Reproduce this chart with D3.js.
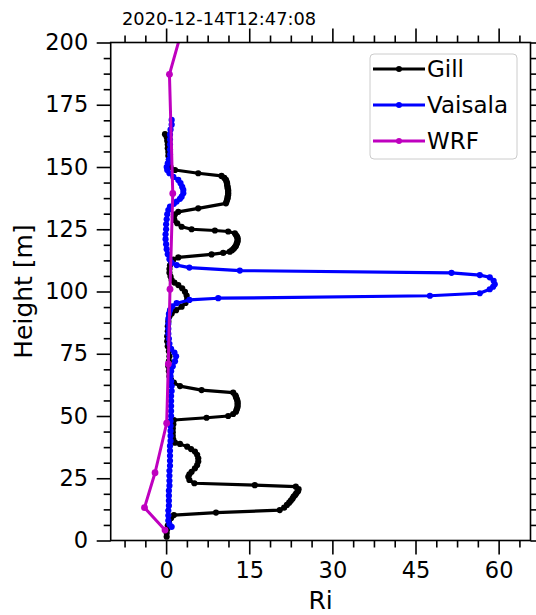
<!DOCTYPE html>
<html><head><meta charset="utf-8">
<script src="https://cdn.jsdelivr.net/npm/d3@7"></script>
<style>html,body{margin:0;padding:0;background:#fff;} svg{display:block;font-family:"DejaVu Sans",sans-serif;}</style>
</head><body><svg id="chart" width="536" height="615"></svg>
<script>
const title = "2020-12-14T12:47:08";
const seriesNames = ["Gill", "Vaisala", "WRF"];
const seriesColors = ["#000000", "#0000ff", "#bf00bf"];
const xLabel = "Ri";
const yLabel = "Height [m]";

const gillHeight = [
  1.5, 3.0, 4.5, 6.0, 7.5, 9.0, 10.2, 11.2, 12.2, 13.2,
  14.3, 15.2, 16.0, 16.8, 17.6, 18.3, 19.0, 19.8, 20.6, 21.6,
  22.2, 23.0, 24.3, 25.6, 26.6, 27.6, 29.0, 30.3, 31.7, 33.0,
  34.4, 35.7, 36.7, 37.7, 38.8, 39.3, 40.5, 42.0, 43.5, 45.0,
  46.7, 48.4, 49.3, 50.0, 50.8, 51.7, 52.4, 53.0, 53.7, 54.4,
  55.1, 55.8, 56.5, 57.1, 57.7, 58.3, 59.4, 60.4, 62.0, 63.4,
  64.5, 66.0, 68.0, 70.0, 72.0, 74.0, 76.0, 78.0, 80.0, 82.0,
  84.0, 86.0, 88.0, 90.0, 91.2, 92.5, 93.9, 95.4, 96.9, 98.4,
  99.9, 101.3, 102.6, 103.6, 104.6, 106.0, 107.5, 109.0, 110.5, 112.0,
  112.8, 113.7, 114.9, 115.5, 116.0, 116.6, 117.2, 117.8, 118.3, 119.0,
  119.5, 120.1, 120.7, 121.4, 122.0, 122.7, 123.4, 124.1, 124.5, 125.0,
  126.0, 127.4, 128.7, 130.0, 131.0, 132.0, 133.4, 135.4, 136.1, 136.8,
  137.5, 138.1, 138.8, 139.5, 140.2, 140.8, 141.5, 142.1, 142.8, 143.5,
  144.1, 144.8, 145.6, 146.4, 147.5, 148.8, 150.0, 151.5, 153.0, 154.5,
  156.0, 157.5, 159.0, 160.5, 162.0, 163.2
];
const gillRi = [
  0.1, 0.1, 0.2, 0.3, 0.5, 0.9, 1.4, 9.0, 20.5, 21.3,
  21.8, 22.2, 22.5, 22.8, 23.0, 23.3, 23.5, 23.8, 23.9, 23.4,
  16.0, 5.1, 4.2, 4.0, 4.2, 4.6, 5.2, 5.6, 5.8, 5.8,
  5.6, 5.2, 4.5, 3.8, 2.5, 1.6, 1.3, 1.2, 1.2, 1.2,
  1.3, 1.4, 7.3, 11.2, 12.1, 12.6, 12.7, 12.8, 12.9, 12.9,
  12.9, 12.9, 12.8, 12.7, 12.6, 12.5, 12.1, 6.4, 2.5, 1.4,
  0.9, 0.6, 0.5, 0.4, 0.5, 0.6, 0.5, 0.3, 0.2, 0.2,
  0.3, 0.3, 0.4, 0.6, 1.0, 1.8, 2.8, 3.5, 3.8, 3.7,
  3.4, 2.9, 2.2, 1.5, 1.0, 0.8, 0.6, 0.6, 0.7, 0.9,
  1.3, 2.2, 8.2, 10.3, 11.5, 11.9, 12.2, 12.4, 12.6, 12.7,
  12.8, 12.9, 12.9, 12.9, 12.8, 12.6, 12.4, 11.2, 8.8, 4.6,
  2.8, 2.0, 1.5, 1.4, 1.6, 2.2, 5.8, 10.8, 10.9, 11.0,
  11.1, 11.1, 11.2, 11.2, 11.2, 11.2, 11.1, 11.1, 11.0, 11.0,
  10.9, 10.8, 10.5, 10.0, 5.8, 1.6, 0.8, 0.6, 0.5, 0.4,
  0.4, 0.3, 0.3, 0.2, 0.1, -0.2
];

const vaisalaHeight = [
  5.5, 6.5, 8.0, 10.0, 12.0, 14.0, 16.0, 18.0, 20.0, 22.0,
  24.0, 26.0, 28.0, 30.0, 32.0, 34.0, 36.0, 38.0, 40.0, 42.0,
  44.0, 46.0, 48.0, 50.0, 52.0, 54.0, 56.0, 58.0, 60.0, 62.0,
  64.0, 66.0, 68.0, 70.0, 72.0, 74.0, 75.5, 77.0, 79.0, 81.0,
  83.0, 85.0, 87.0, 89.0, 91.0, 92.5, 94.0, 95.3, 96.6, 97.3,
  98.3, 99.3, 100.9, 101.9, 102.9, 104.3, 105.7, 106.6, 107.5, 108.4,
  109.6, 110.6, 111.5, 113.0, 115.0, 117.0, 119.0, 121.0, 123.0, 125.0,
  127.0, 129.0, 131.0, 132.7, 134.1, 135.2, 136.1, 137.2, 138.1, 139.5,
  140.8, 142.0, 143.5, 144.8, 146.0, 147.5, 148.8, 150.0, 151.5, 153.0,
  155.0, 157.0, 159.0, 161.0, 163.0, 165.0, 167.0, 168.9
];
const vaisalaRi = [
  1.0, 0.6, 0.4, 0.4, 0.4, 0.5, 0.5, 0.5, 0.5, 0.6,
  0.6, 0.6, 0.6, 0.7, 0.7, 0.7, 0.7, 0.7, 0.8, 0.8,
  0.8, 0.8, 0.8, 0.9, 0.9, 0.9, 0.9, 0.9, 1.0, 1.0,
  0.9, 0.8, 0.9, 1.2, 1.6, 1.8, 1.5, 0.9, 0.6, 0.5,
  0.4, 0.4, 0.4, 0.4, 0.5, 0.7, 1.1, 1.9, 4.2, 9.4,
  47.6, 56.6, 58.4, 59.0, 59.3, 59.1, 58.4, 56.6, 51.5, 13.3,
  4.2, 1.9, 1.0, 0.6, 0.3, 0.1, 0.0, -0.1, -0.1, 0.0,
  0.0, 0.1, 0.2, 0.4, 0.7, 1.4, 1.9, 2.5, 2.8, 3.1,
  3.1, 2.9, 2.6, 2.2, 1.3, 0.6, 0.2, 0.1, 0.3, 0.5,
  0.7, 0.7, 0.7, 0.7, 0.7, 0.8, 1.0, 1.0
];

const wrfHeight = [4.2, 13.2, 27.2, 47.1, 70.9, 100.9, 139.4, 187.2, 245.0];
const wrfRi = [-0.2, -3.9, -2.0, 0.1, 0.4, 0.7, 1.2, 0.6, 7.9];

const xDomain = [-10, 65.75];
const yDomain = [0, 200];
const xTicks = [0, 15, 30, 45, 60];
const xMinorTicks = [-7.5, -3.75, 3.75, 7.5, 11.25, 18.75, 22.5, 26.25, 33.75, 37.5, 41.25, 48.75, 52.5, 56.25, 63.75];
const yTicks = [0, 25, 50, 75, 100, 125, 150, 175, 200];
const yMinorTicks = [6.25, 12.5, 18.75, 31.25, 37.5, 43.75, 56.25, 62.5, 68.75, 81.25, 87.5, 93.75,
  106.25, 112.5, 118.75, 131.25, 137.5, 143.75, 156.25, 162.5, 168.75, 181.25, 187.5, 193.75];

// ---------- drawing ----------
const X0 = 110.7, X1 = 530.5, Y0 = 540.5, Y1 = 42.5;
const svg = d3.select("#chart");
const x = d3.scaleLinear().domain(xDomain).range([X0, X1]);
const y = d3.scaleLinear().domain(yDomain).range([Y0, Y1]);

svg.append("rect").attr("width", 536).attr("height", 615).attr("fill", "#fff");
svg.append("defs").append("clipPath").attr("id", "clip")
  .append("rect").attr("x", X0).attr("y", Y1).attr("width", X1 - X0).attr("height", Y0 - Y1);

const tickFont = 22.5;
function styleAxis(g) {
  g.select(".domain").remove();
  g.selectAll(".tick line").attr("stroke", "#000").attr("stroke-width", 1.6);
  g.selectAll(".tick text").attr("font-size", tickFont).attr("fill", "#000")
    .attr("font-family", "DejaVu Sans");
}
// bottom
svg.append("g").attr("transform", `translate(0,${Y0})`)
  .call(d3.axisBottom(x).tickValues(xTicks).tickSize(14).tickPadding(7.5).tickFormat(d3.format("d"))).call(styleAxis);
svg.append("g").attr("transform", `translate(0,${Y0})`)
  .call(d3.axisBottom(x).tickValues(xMinorTicks).tickSize(7).tickFormat("")).call(styleAxis);
// top
svg.append("g").attr("transform", `translate(0,${Y1})`)
  .call(d3.axisTop(x).tickValues(xTicks).tickSize(14).tickFormat("")).call(styleAxis);
svg.append("g").attr("transform", `translate(0,${Y1})`)
  .call(d3.axisTop(x).tickValues(xMinorTicks).tickSize(7).tickFormat("")).call(styleAxis);
// left
svg.append("g").attr("transform", `translate(${X0},0)`)
  .call(d3.axisLeft(y).tickValues(yTicks).tickSize(14).tickPadding(8.5).tickFormat(d3.format("d"))).call(styleAxis);
svg.append("g").attr("transform", `translate(${X0},0)`)
  .call(d3.axisLeft(y).tickValues(yMinorTicks).tickSize(7).tickFormat("")).call(styleAxis);
// right
svg.append("g").attr("transform", `translate(${X1},0)`)
  .call(d3.axisRight(y).tickValues(yTicks).tickSize(14).tickFormat("")).call(styleAxis);
svg.append("g").attr("transform", `translate(${X1},0)`)
  .call(d3.axisRight(y).tickValues(yMinorTicks).tickSize(7).tickFormat("")).call(styleAxis);

// series
const series = [
  {name: seriesNames[0], color: seriesColors[0], h: gillHeight, ri: gillRi, lw: 3.2, r: 3.1},
  {name: seriesNames[1], color: seriesColors[1], h: vaisalaHeight, ri: vaisalaRi, lw: 3.2, r: 3.1},
  {name: seriesNames[2], color: seriesColors[2], h: wrfHeight, ri: wrfRi, lw: 3, r: 3.4}
];
const plot = svg.append("g").attr("clip-path", "url(#clip)");
const line = d3.line().x(d => x(d[0])).y(d => y(d[1]));
series.forEach(s => {
  const pts = s.h.map((h, i) => [s.ri[i], h]);
  plot.append("path").datum(pts).attr("d", line).attr("fill", "none")
    .attr("stroke", s.color).attr("stroke-width", s.lw).attr("stroke-linejoin", "round");
  plot.append("g").selectAll("circle").data(pts).join("circle")
    .attr("cx", d => x(d[0])).attr("cy", d => y(d[1])).attr("r", s.r).attr("fill", s.color);
});

// frame
svg.append("rect").attr("x", X0).attr("y", Y1).attr("width", X1 - X0).attr("height", Y0 - Y1)
  .attr("fill", "none").attr("stroke", "#000").attr("stroke-width", 1.6);

// legend
const lg = svg.append("g");
lg.append("rect").attr("x", 370).attr("y", 54).attr("width", 147).attr("height", 105).attr("rx", 4)
  .attr("fill", "#fff").attr("fill-opacity", 0.8).attr("stroke", "#cccccc").attr("stroke-width", 1);
series.forEach((s, i) => {
  const cy = 69 + i * 36;
  lg.append("line").attr("x1", 373).attr("x2", 425).attr("y1", cy).attr("y2", cy)
    .attr("stroke", s.color).attr("stroke-width", s.lw);
  lg.append("circle").attr("cx", 399).attr("cy", cy).attr("r", 3).attr("fill", s.color);
  lg.append("text").attr("x", 427).attr("y", cy + 8.3).attr("font-size", 23).attr("fill", "#000")
    .attr("font-family", "DejaVu Sans").text(s.name);
});

// labels
svg.append("text").attr("x", (X0 + X1) / 2).attr("y", 609).attr("text-anchor", "middle")
  .attr("font-size", 25).attr("fill", "#000").text(xLabel);
svg.append("text").attr("transform", `translate(31.7,${(Y0 + Y1) / 2}) rotate(-90)`).attr("text-anchor", "middle")
  .attr("font-size", 25).attr("fill", "#000").text(yLabel);
svg.append("text").attr("x", 122).attr("y", 25).attr("font-size", 17.8).attr("fill", "#000").text(title);
</script></body></html>
